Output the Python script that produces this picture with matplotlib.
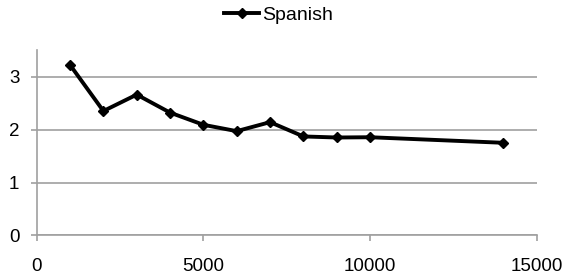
import matplotlib
matplotlib.use("Agg")
import matplotlib.pyplot as plt

x_values = [1000, 2000, 3000, 4000, 5000, 6000, 7000, 8000, 9000, 10000, 14000]
spanish = [3.22, 2.35, 2.66, 2.32, 2.09, 1.97, 2.14, 1.87, 1.85, 1.855, 1.75]
x_ticks = [0, 5000, 10000, 15000]
y_ticks = [0, 1, 2, 3]

plt.rcParams['font.family'] = ['Liberation Sans', 'DejaVu Sans']
fig = plt.figure(figsize=(5.65, 2.77), dpi=100)
ax = fig.add_axes([0.065, 0.150, 0.885, 0.669])
ax.plot(x_values, spanish, color='black', lw=2.8, marker='D', ms=5.5, label='Spanish',
        solid_joinstyle='miter')
ax.set_xlim(0, 15000)
ax.set_ylim(0, 3.5)
ax.set_xticks(x_ticks)
ax.set_yticks(y_ticks)
ax.yaxis.grid(True, color='#a0a0a0', lw=1.2)
ax.set_axisbelow(True)
for s in ['top', 'right']:
    ax.spines[s].set_visible(False)
for s in ['left', 'bottom']:
    ax.spines[s].set_color('#a0a0a0')
    ax.spines[s].set_linewidth(1.2)
ax.tick_params(axis='y', length=4.5, width=1.2, color='#a0a0a0', labelsize=13.5, pad=8)
ax.tick_params(axis='x', length=4.5, width=1.2, color='#a0a0a0', labelsize=13.5, pad=12)
fig.legend(loc='center', bbox_to_anchor=(0.493, 0.946), frameon=False, fontsize=14,
           handlelength=1.8, handletextpad=0.15, borderpad=0.2)
fig.savefig('out.png', dpi=100)
